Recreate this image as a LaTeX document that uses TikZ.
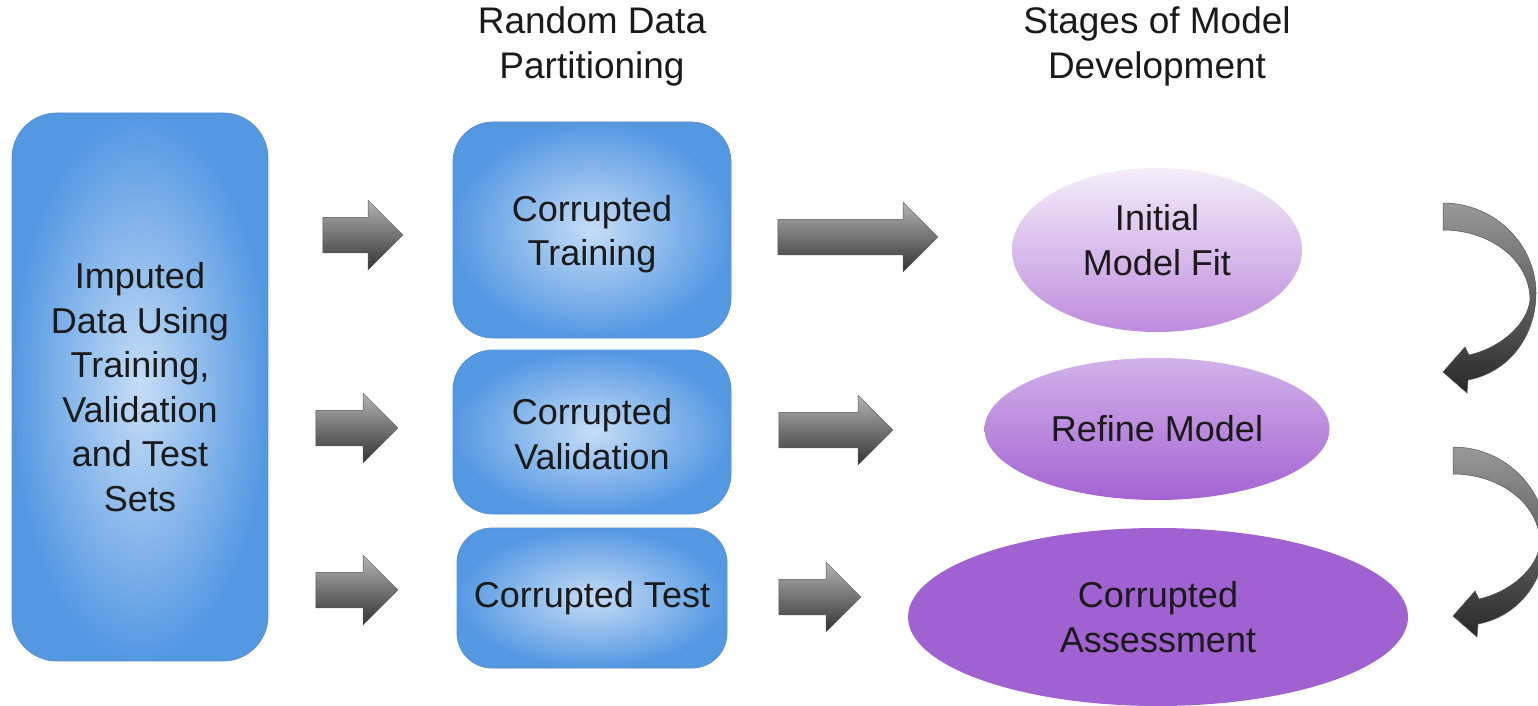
\documentclass[tikz,border=0pt]{standalone}
\usepackage{fontspec}
\setmainfont{Liberation Sans}
\usetikzlibrary{shapes.geometric,shapes.arrows}

\definecolor{boxlight}{HTML}{C6DDF6}
\definecolor{boxedge}{HTML}{5498E2}
\definecolor{boxline}{HTML}{5A8ED0}
\definecolor{inkblack}{HTML}{1A1A1A}
\definecolor{fitTop}{HTML}{F4EEF9}
\definecolor{fitBot}{HTML}{BE8CDD}
\definecolor{refTop}{HTML}{D2B2EA}
\definecolor{refBot}{HTML}{A463D2}
\definecolor{assess}{HTML}{A162D1}
\definecolor{arrTop}{HTML}{B4B4B4}
\definecolor{arrBot}{HTML}{333333}
\definecolor{arrLine}{HTML}{555555}

% light centre fading to blue towards the edges of a box
\pgfdeclareradialshading{boxglow}{\pgfpoint{0bp}{0bp}}{color(0bp)=(boxlight); color(25bp)=(boxedge); color(50bp)=(boxedge)}

\tikzset{
  txt/.style={font=\fontsize{36}{44.5}\selectfont, text=inkblack, align=center},
  databox/.style={rectangle, rounded corners=#1, draw=boxline, line width=0.8pt,
    shade, shading=boxglow, inner sep=0pt, txt},
  stage/.style={ellipse, inner sep=0pt, txt},
  blockarrow/.style={single arrow, single arrow head extend=17pt,
    single arrow tip angle=90, single arrow head indent=0pt,
    inner xsep=0pt, inner ysep=17.5pt, shade, top color=arrTop,
    bottom color=arrBot, draw=arrLine, line width=0.5pt},
  bendarrow/.pic={
    \shadedraw[top color=arrTop!85!black, bottom color=arrBot!80!black, draw=arrLine, line width=0.5pt]
      (0,0) .. controls (52,0) and (93,42) .. (93,90)
      .. controls (93,132) and (67,169) .. (25,177)
      -- (24,190) -- (0,169) -- (22,144) -- (26,152)
      .. controls (57,145) and (84,122) .. (87,97)
      .. controls (87,57) and (47,27) .. (0,27) -- cycle;
  }
}

\begin{document}
\begin{tikzpicture}[x=1pt, y=-1pt]
  \path[use as bounding box] (0,0) rectangle (1538,706);
  \clip (0,0) rectangle (1538,706);

  % column headings
  \node[txt, font=\fontsize{37}{45}\selectfont] (hpart) at (592,46) {Random Data\\Partitioning};
  \node[txt, font=\fontsize{37}{45}\selectfont] (hstage) at (1157,46) {Stages of Model\\Development};

  % source data
  \node[databox=45pt, minimum width=256pt, minimum height=548pt] (imp) at (140,387)
    {Imputed\\Data Using\\Training,\\Validation\\and Test\\Sets};

  % partitions (captions set a little below the box centre)
  \node[databox=40pt, minimum width=278pt, minimum height=216pt,
        label={[txt, name=traintext, yshift=-4pt]center:Corrupted\\Training}] (train) at (592,230) {};
  \node[databox=40pt, minimum width=278pt, minimum height=164pt,
        label={[txt, name=validtext, yshift=-2pt]center:Corrupted\\Validation}] (valid) at (592,432) {};
  \node[databox=35pt, minimum width=270pt, minimum height=140pt] (test) at (592,598) {Corrupted Test};

  % model development stages
  \node[stage, minimum width=290pt, minimum height=164pt, shade, top color=fitTop, bottom color=fitBot,
        label={[txt, name=fittext, yshift=10pt]center:Initial\\Model Fit}] (fit) at (1157,250) {};
  \node[stage, minimum width=345pt, minimum height=142pt, shade, top color=refTop, bottom color=refBot] (refine) at (1157,429) {Refine Model};
  \node[stage, minimum width=500pt, minimum height=178pt, fill=assess] (assessment) at (1158,617) {Corrupted\\Assessment};

  % flow arrows
  \node[blockarrow, minimum height=80pt] (a1) at (354,235) {};
  \node[blockarrow, minimum height=82pt] (a2) at (348,428) {};
  \node[blockarrow, minimum height=82pt] (a3) at (348,590) {};
  \node[blockarrow, minimum height=160pt] (a4) at (849,237) {};
  \node[blockarrow, minimum height=114pt] (a5) at (827,430) {};
  \node[blockarrow, minimum height=82pt] (a6) at (811,597) {};

  % bent arrows between stages
  \pic at (1443,203) {bendarrow};
  \pic at (1453,447) {bendarrow};
\end{tikzpicture}
\end{document}
